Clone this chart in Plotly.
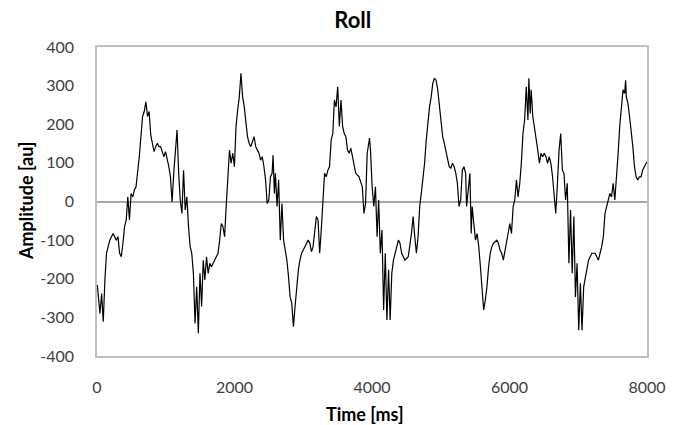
import plotly.graph_objects as go

time_ms = [5, 43, 67, 91, 115, 138, 186, 234, 281, 305, 329, 353, 377, 401, 425, 448, 472, 496, 520, 544, 568, 592, 615, 639, 663, 687, 711, 735, 758, 782, 806, 830, 854, 878, 901, 925, 949, 973, 997, 1021, 1045, 1068, 1092, 1116, 1140, 1164, 1188, 1211, 1235, 1259, 1283, 1307, 1331, 1355, 1378, 1402, 1426, 1450, 1474, 1498, 1522, 1545, 1569, 1593, 1617, 1641, 1665, 1712, 1760, 1784, 1808, 1832, 1856, 1879, 1903, 1927, 1951, 1975, 1999, 2022, 2046,
           2070, 2094, 2118, 2142, 2166, 2189, 2213, 2237, 2285, 2309, 2332, 2356, 2380, 2404, 2428, 2452, 2475, 2499, 2523, 2547, 2561, 2580, 2595, 2619, 2642, 2666, 2690, 2714, 2738, 2762, 2786, 2809, 2833, 2857, 2881, 2905, 2929, 2952, 2976, 3024, 3072, 3096, 3119, 3143, 3167, 3191, 3215, 3239, 3262, 3286, 3310, 3334, 3358, 3382, 3406, 3430, 3453, 3477, 3501, 3525, 3549, 3573, 3596, 3620, 3644, 3668, 3692, 3716, 3763, 3811, 3859, 3883, 3906,
           3930, 3964, 3978, 4002, 4026, 4050, 4074, 4097, 4121, 4145, 4169, 4193, 4217, 4241, 4264, 4288, 4312, 4336, 4360, 4384, 4407, 4431, 4479, 4527, 4574, 4598, 4622, 4646, 4670, 4694, 4717, 4741, 4765, 4789, 4813, 4837, 4861, 4884, 4908, 4932, 4956, 4980, 5004, 5028, 5051, 5075, 5099, 5123, 5147, 5171, 5195, 5219, 5242, 5266, 5290, 5314, 5338, 5362, 5376, 5395, 5424, 5443, 5457, 5481, 5505, 5529, 5553, 5577, 5600, 5624, 5648, 5672, 5696, 5720, 5743, 5767, 5815, 5839, 5863, 5887, 5910,
           5934, 5958, 5982, 6005, 6029, 6053, 6077, 6101, 6125, 6149, 6172, 6196, 6220, 6244, 6268, 6282, 6301, 6315, 6339, 6363, 6387, 6411, 6435, 6459, 6482, 6506, 6530, 6554, 6578, 6602, 6626, 6649, 6673, 6697, 6721, 6745, 6769, 6792, 6816, 6840, 6864, 6888, 6912, 6936, 6959, 6983, 7007, 7031, 7055, 7079, 7103, 7126, 7150, 7198, 7246, 7269, 7293, 7317, 7341, 7365, 7389, 7413, 7436, 7460, 7484, 7508, 7532, 7556, 7580, 7603, 7627, 7651, 7675, 7689, 7699, 7723, 7746, 7770, 7794, 7818, 7842, 7866, 7890, 7913, 7937, 7961, 7985, 8000]

amplitude = [-216, -290, -238, -311, -203, -134, -100, -83, -100, -91, -134, -143, -108, -65, -48, 12, -48, 21, 12, 30, 38, 73, 116, 168, 220, 233, 258, 220, 233, 172, 151, 129, 142, 151, 142, 142, 129, 116, 129, 112, 90, 64, -1, 73, 125, 185, 73, 4, -31, 81, -22, 12, -65, -117, -134, -186, -316, -221, -341, -186, -272, -152, -203, -143, -186, -160, -169, -152, -134, -100, -57, -65, -91, -13, 47, 133, 99, 125, 90, 194, 237,
             271, 332, 271, 245, 194, 168, 151, 142, 168, 142, 133, 125, 107, 116, 90, 56, -5, 4, 64, 73, 120, 21, 73, -13, 56, -100, -5, -100, -126, -152, -195, -247, -264, -324, -272, -212, -177, -152, -134, -117, -100, -108, -130, -117, -83, -39, -48, -134, -74, -5, 73, 64, 81, 90, 159, 176, 263, 245, 297, 194, 263, 194, 176, 168, 133, 125, 138, 116, 73, 64, 38, -31, -5,
             125, 164, 133, 38, -13, 38, -91, 4, -134, -74, -281, -134, -307, -177, -307, -186, -152, -134, -117, -100, -108, -134, -152, -143, -83, -39, -91, -134, -91, -13, 21, 56, 99, 159, 211, 245, 271, 306, 319, 314, 289, 254, 211, 168, 151, 133, 107, 90, 86, 99, 90, 73, 47, -13, 4, 81, 90, 73, -13, 21, 73, -83, -13, -57, -100, -83, -117, -169, -229, -281, -255, -221, -169, -134, -117, -108, -100, -108, -126, -134, -152,
             -126, -108, -83, -57, -83, -13, 4, 56, 12, 47, 99, 176, 211, 297, 211, 319, 228, 289, 220, 194, 159, 133, 99, 125, 116, 125, 116, 99, 116, 99, 64, 21, -31, 47, 133, 176, 81, 73, 4, 47, -160, -22, -186, -39, -247, -160, -333, -212, -333, -221, -195, -169, -152, -134, -134, -143, -152, -134, -117, -91, -31, -13, 4, 21, 12, 47, 4, 81, 125, 194, 237, 289, 280, 314, 271, 254, 220, 185, 142, 90, 64, 56, 64, 64, 81, 90, 99, 103]

y_ticks = [-400, -300, -200, -100, 0, 100, 200, 300, 400]
y_tick_labels = ["-400", "-300", "-200", "-100", "0", "100", "200", "300", "400"]
x_ticks = [0, 2000, 4000, 6000, 8000]
x_tick_labels = ["0", "2000", "4000", "6000", "8000"]

FONT = "Lato"
fig = go.Figure()
fig.add_trace(go.Scatter(x=time_ms, y=amplitude, mode="lines",
                         line=dict(color="black", width=1.2), showlegend=False))

fig.update_layout(
    width=678, height=425,
    paper_bgcolor="white", plot_bgcolor="white",
    margin=dict(l=97, r=22, t=47, b=69),
    font=dict(family=FONT, color="#404040", size=16),
    title=dict(text="<b>Roll</b>", font=dict(family=FONT, size=22, color="black"),
               x=0.465, xref="paper", xanchor="center",
               y=1 - 20 / 425, yref="container", yanchor="middle"),
    xaxis=dict(range=[0, 8000], tickvals=x_ticks, ticktext=x_tick_labels,
               showgrid=False, zeroline=False,
               showline=True, mirror=True, linecolor="#BFBFBF", linewidth=1.5,
               ticks="", ticklabelstandoff=16, tickfont=dict(size=16, color="#404040")),
    yaxis=dict(range=[-400, 400], tickvals=y_ticks, ticktext=y_tick_labels,
               showgrid=False, zeroline=True,
               zerolinecolor="#A6A6A6", zerolinewidth=1.5,
               showline=True, mirror=True, linecolor="#BFBFBF", linewidth=1.5,
               ticks="", ticklabelstandoff=18, tickfont=dict(size=16, color="#404040")),
    annotations=[
        dict(text="<b>Time [ms]</b>", xref="paper", yref="paper", x=0.487, y=-0.188,
             xanchor="center", yanchor="middle", showarrow=False,
             font=dict(family=FONT, size=18, color="black")),
        dict(text="<b>Amplitude [au]</b>", xref="paper", yref="paper", x=-0.13, y=0.5,
             xanchor="center", yanchor="middle", showarrow=False, textangle=-90,
             font=dict(family=FONT, size=18, color="black")),
    ],
)

fig.write_html("out.html")
